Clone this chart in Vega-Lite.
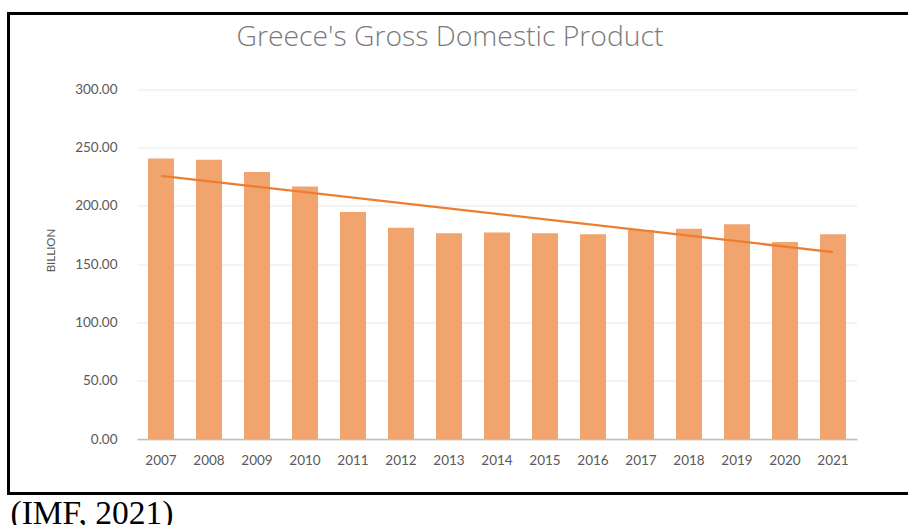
{
  "$schema": "https://vega.github.io/schema/vega-lite/v6.json",
  "autosize": {"type": "none"},
  "width": 1000,
  "height": 480,
  "padding": {"left": 8.5, "top": 13.5, "right": -100.5, "bottom": 31.5},
  "background": "white",
  "title": {
    "text": "Greece's Gross Domestic Product",
    "anchor": "start",
    "frame": "group",
    "orient": "top",
    "offset": -32.5,
    "dy": 28,
    "dx": 228,
    "baseline": "alphabetic",
    "font": "Open Sans",
    "fontSize": 28.3,
    "fontWeight": 300,
    "color": "#7a7a7a"
  },
  "data": {
    "values": [
      {"year": 2007, "gdp": 240.5},
      {"year": 2008, "gdp": 239.3},
      {"year": 2009, "gdp": 228.8},
      {"year": 2010, "gdp": 216.5},
      {"year": 2011, "gdp": 194.5},
      {"year": 2012, "gdp": 181.1},
      {"year": 2013, "gdp": 176.3},
      {"year": 2014, "gdp": 177.1},
      {"year": 2015, "gdp": 176.3},
      {"year": 2016, "gdp": 175.4},
      {"year": 2017, "gdp": 179.1},
      {"year": 2018, "gdp": 180.2},
      {"year": 2019, "gdp": 184.0},
      {"year": 2020, "gdp": 168.8},
      {"year": 2021, "gdp": 175.4}
    ]
  },
  "encoding": {
    "x": {
      "field": "year",
      "type": "ordinal",
      "scale": {"range": [128.5, 848.5], "paddingInner": 0.458, "paddingOuter": 0.229},
      "axis": {
        "title": "(IMF, 2021)",
        "orient": "bottom",
        "offset": -54.5,
        "labelAngle": 0,
        "ticks": false,
        "domainColor": "#bfbfbf",
        "domainWidth": 1.5,
        "labelPadding": 14,
        "labelFont": "Lato",
        "labelFontSize": 13.5,
        "labelColor": "#595959",
        "titleFont": "Liberation Serif",
        "titleFontSize": 33.5,
        "titleFontWeight": "normal",
        "titleColor": "black",
        "titleX": 1.5,
        "titleY": 84.5,
        "titleAlign": "left",
        "titleAnchor": "start",
        "titleBaseline": "alphabetic"
      }
    },
    "y": {
      "field": "gdp",
      "type": "quantitative",
      "scale": {"domain": [0, 300], "range": [425.5, 75.5], "nice": false},
      "axis": {
        "title": "BILLION",
        "values": [0, 50, 100, 150, 200, 250, 300],
        "format": ".2f",
        "orient": "left",
        "offset": -109.5,
        "domain": false,
        "ticks": false,
        "labelPadding": 1,
        "labelFont": "Lato",
        "labelFontSize": 13.5,
        "labelColor": "#595959",
        "grid": true,
        "gridColor": "#e9e9e9",
        "gridWidth": 1,
        "titleFont": "Lato",
        "titleFontSize": 11.5,
        "titleFontWeight": "normal",
        "titleColor": "#595959",
        "titleX": -62,
        "titleY": 236.5,
        "titleAngle": -90,
        "titleBaseline": "bottom",
        "titleAlign": "center"
      }
    }
  },
  "layer": [
    {"mark": {"type": "bar", "color": "#F1A46D"}},
    {
      "transform": [{"regression": "gdp", "on": "year"}],
      "mark": {"type": "line", "color": "#ED7D31", "strokeWidth": 2.25}
    }
  ],
  "config": {"view": {"stroke": "black", "strokeWidth": 3}}
}
